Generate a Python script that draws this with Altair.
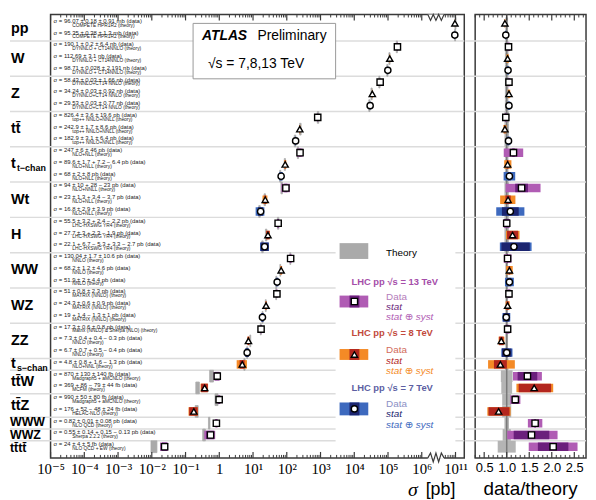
import altair as alt
import numpy as np
import pandas as pd

# ------------------------------------------------------------------ data
group_names = ["pp", "W", "Z", "tt\u0304", "t", "Wt", "H", "WW", "WZ", "ZZ", "t",
               "tt\u0304W", "tt\u0304Z", "WWW", "WWZ", "tt\u0304tt\u0304"]
group_subs = ["", "", "", "", "t\u2212chan", "", "", "", "", "", "s\u2212chan", "", "", "", "", ""]
group_sizes = [2, 3, 3, 3, 3, 3, 3, 3, 3, 3, 1, 2, 2, 1, 1, 1]

energies = [8, 7,
            13, 8, 7,
            13, 8, 7,
            13, 8, 7,
            13, 8, 7,
            13, 8, 7,
            13, 8, 7,
            13, 8, 7,
            13, 8, 7,
            13, 8, 7,
            8,
            13, 8,
            13, 8,
            13, 13, 13]
sigma = [96.07, 95.35,
         190.1, 112.69, 98.71,
         58.43, 34.24, 29.53,
         826.4, 242.9, 182.9,
         247, 89.6, 68,
         94, 23, 16.8,
         55.5, 27.7, 22.1,
         130.04, 68.2, 51.9,
         51, 24.3, 19,
         17.3, 7.3, 6.7,
         4.8,
         870, 369,
         990, 176,
         0.82, 0.55, 24]
units = ["mb"] * 2 + ["nb"] * 6 + ["pb"] * 22 + ["fb"] * 4 + ["pb", "pb", "fb"]
stat_up = [0.18, 0.38, 0.2, 0.0, 0.028, 0.03, 0.03, 0.03, 3.6, 1.7, 3.1, 6, 1.7, 2, 10, 1.3, 2.9,
           3.2, 3, 6.7, 1.7, 1.2, 2, 0.8, 0.6, 1.4, 0.6, 0.4, 0.7, 0.8, 130, 86, 50, 52, 0.01, 0.14, 4]
stat_dn = [0.18, 0.38, 0.2, 0.0, 0.028, 0.03, 0.03, 0.03, 3.6, 1.7, 3.1, 6, 1.7, 2, 10, 1.3, 2.9,
           3.2, 3, 5.3, 1.7, 1.2, 2, 0.8, 0.6, 1.3, 0.6, 0.4, 0.7, 0.8, 130, 79, 50, 48, 0.01, 0.14, 4]
syst_up = [0.91, 1.3, 6.4, 3.1, 2.191, 1.66, 0.92, 0.77, 19.6, 8.6, 6.4, 46, 7.2, 8, 28, 3.4, 3.9,
           2.4, 2.3, 3.3, 10.6, 4.6, 4.4, 2.3, 0.9, 1, 0.8, 0.4, 0.5, 1.6, 140, 44, 80, 24, 0.08, 0.15, 5]
syst_dn = [0.91, 1.3, 6.4, 3.1, 2.191, 1.66, 0.92, 0.77, 19.6, 8.6, 6.4, 46, 6.4, 8, 23, 3.7, 3.9,
           2.2, 1.9, 2.7, 10.6, 4.6, 4.4, 2.3, 0.9, 1, 0.8, 0.3, 0.4, 1.3, 140, 44, 80, 24, 0.08, 0.13, 5]
ratio = [0.96, 0.98,
         1.04, 1.02, 1.03,
         1.05, 1.05, 1.05,
         0.98, 0.96, 1.04,
         1.15, 1.02, 1.06,
         1.33, 1.03, 1.08,
         1.00, 1.13, 1.16,
         1.02, 1.06, 1.06,
         1.05, 1.02, 0.99,
         1.02, 0.88, 1.00,
         0.86,
         1.46, 1.61,
         1.19, 0.82,
         1.63, 1.55, 2.03]
theory_unc = [0.03, 0.03,
              0.04, 0.04, 0.04,
              0.04, 0.04, 0.04,
              0.05, 0.05, 0.05,
              0.04, 0.04, 0.04,
              0.05, 0.05, 0.05,
              0.05, 0.05, 0.05,
              0.03, 0.03, 0.03,
              0.03, 0.03, 0.03,
              0.03, 0.03, 0.03,
              0.04,
              0.13, 0.12,
              0.10, 0.10,
              0.05, 0.09, 0.20]
data_text = [
    "σ = 96.07 ± 0.18 ± 0.91 mb (data)",
    "σ = 95.35 ± 0.38 ± 1.3 mb (data)",
    "σ = 190.1 ± 0.2 ± 6.4 nb (data)",
    "σ = 112.69 ± 3.1 nb (data)",
    "σ = 98.71 ± 0.028 ± 2.191 nb (data)",
    "σ = 58.43 ± 0.03 ± 1.66 nb (data)",
    "σ = 34.24 ± 0.03 ± 0.92 nb (data)",
    "σ = 29.53 ± 0.03 ± 0.77 nb (data)",
    "σ = 826.4 ± 3.6 ± 19.6 pb (data)",
    "σ = 242.9 ± 1.7 ± 8.6 pb (data)",
    "σ = 182.9 ± 3.1 ± 6.4 pb (data)",
    "σ = 247 ± 6 ± 46 pb (data)",
    "σ = 89.6 ± 1.7 + 7.2 − 6.4 pb (data)",
    "σ = 68 ± 2 ± 8 pb (data)",
    "σ = 94 ± 10 + 28 − 23 pb (data)",
    "σ = 23 ± 1.3 + 3.4 − 3.7 pb (data)",
    "σ = 16.8 ± 2.9 ± 3.9 pb (data)",
    "σ = 55.5 ± 3.2 + 2.4 − 2.2 pb (data)",
    "σ = 27.7 ± 3 + 2.3 − 1.9 pb (data)",
    "σ = 22.1 + 6.7 − 5.3 + 3.3 − 2.7 pb (data)",
    "σ = 130.04 ± 1.7 ± 10.6 pb (data)",
    "σ = 68.2 ± 1.2 ± 4.6 pb (data)",
    "σ = 51.9 ± 2 ± 4.4 pb (data)",
    "σ = 51 ± 0.8 ± 2.3 pb (data)",
    "σ = 24.3 ± 0.6 ± 0.9 pb (data)",
    "σ = 19 + 1.4 − 1.3 ± 1 pb (data)",
    "σ = 17.3 ± 0.6 ± 0.8 pb (data)",
    "σ = 7.3 ± 0.4 + 0.4 − 0.3 pb (data)",
    "σ = 6.7 ± 0.7 + 0.5 − 0.4 pb (data)",
    "σ = 4.8 ± 0.8 + 1.6 − 1.3 pb (data)",
    "σ = 870 ± 130 ± 140 fb (data)",
    "σ = 369 + 86 − 79 ± 44 fb (data)",
    "σ = 990 ± 50 ± 80 fb (data)",
    "σ = 176 + 52 − 48 ± 24 fb (data)",
    "σ = 0.82 ± 0.01 ± 0.08 pb (data)",
    "σ = 0.55 ± 0.14 + 0.15 − 0.13 pb (data)",
    "σ = 24 ± 4 ± 5 fb (data)",
]
theory_text = (["COMPETE HPR1R2 (theory)"] * 2 + ["DYNNLO + CT14NNLO (theory)"] * 3
               + ["DYNNLO+CT14 NNLO (theory)"] * 3 + ["top++ NNLO+NNLL (theory)"] * 3
               + ["NLO+NLL (theory)"] * 3 + ["NLO+NNLL (theory)", "NLO+NLL (theory)", "NLO+NLL (theory)"]
               + ["LHC-HXSWG YR4 (theory)"] * 3 + ["NNLO (theory)"] * 3 + ["MATRIX (NNLO) (theory)"] * 3
               + ["Matrix (NNLO) & Sherpa (NLO) (theory)", "NNLO (theory)", "NNLO (theory)"]
               + ["NLO+NNL (theory)"] + ["Madgraph5 + aMCNLO (theory)", "MCFM (theory)"]
               + ["Madgraph5 + aMCNLO (theory)", "HELAC-NLO (theory)"]
               + ["NLO QCD (theory)", "Sherpa 2.2.2 (theory)", "NLO QCD + EW (theory)"])
tick_labels_L = ["10⁻⁵", "10⁻⁴", "10⁻³", "10⁻²", "10⁻¹", "1", "10¹", "10²", "10³",
                 "10⁴", "10⁵", "10⁶", "10¹¹"]
tick_labels_R = [0.5, 1.0, 1.5, 2.0, 2.5]

# ------------------------------------------------------------------ styling / layout
W1, W2, H = 418, 112, 448
SANS = "Liberation Sans, DejaVu Sans, sans-serif"
SERIF = "Liberation Serif, DejaVu Serif, serif"
FRAME = "#3a3a3a"
GRAY = "#aaaaaa"
SEP = "#dcdcdc"
pal_out = {13: "#b05cb4", 8: "#f48a26", 7: "#3d69be"}
pal_in = {13: "#6b1f7c", 8: "#b3261e", 7: "#1c2570"}
# small vertical nudges (in rows) for the three crowded single-row labels at the bottom
label_nudge = {"WWW": -0.13, "WWZ": 0.0, "tt\u0304tt\u0304": 0.13}

# ------------------------------------------------------------------ derived table
unit_pb = {"mb": 1e9, "nb": 1e3, "pb": 1.0, "fb": 1e-3}
fac = np.array([unit_pb[u] for u in units])
val = np.array(sigma) * fac
su = np.array(stat_up) * fac
sd = np.array(stat_dn) * fac
tot_u = np.hypot(su, np.array(syst_up) * fac)
tot_d = np.hypot(sd, np.array(syst_dn) * fac)
rat = np.array(ratio)
thu = np.array(theory_unc)
theo = val / rat
brk = np.where(val > 1e8, 4.0, 0.0)  # broken axis: 10^11 is drawn right after 10^6
rows = np.arange(len(sigma))

df = pd.DataFrame({
    "row": rows,
    "energy": [str(e) for e in energies],
    "c_out": [pal_out[e] for e in energies],
    "c_in": [pal_in[e] for e in energies],
    "x": np.log10(val) - brk,
    "xs_lo": np.log10(val - sd) - brk, "xs_hi": np.log10(val + su) - brk,
    "xt_lo": np.log10(val - tot_d) - brk, "xt_hi": np.log10(val + tot_u) - brk,
    "xth_lo": np.log10(theo * (1 - thu)) - brk, "xth_hi": np.log10(theo * (1 + thu)) - brk,
    "r": rat,
    "rs_lo": rat * (1 - sd / val), "rs_hi": rat * (1 + su / val),
    "rt_lo": rat * (1 - tot_d / val), "rt_hi": rat * (1 + tot_u / val),
    "rth_lo": 1 - thu, "rth_hi": 1 + thu,
    "y_lo": rows - 0.5, "y_hi": rows + 0.5,
    "b_lo": rows - 0.36, "b_hi": rows + 0.36,
    "dtext": data_text, "ttext": theory_text,
})

gstart = np.cumsum([0] + group_sizes[:-1])
gdf = pd.DataFrame({"name": group_names, "sub": group_subs,
                    "center": gstart + (np.array(group_sizes) - 1) / 2.0})
gdf["ly"] = gdf["center"] + gdf["name"].map(label_nudge).fillna(0.0)
gdf_big = gdf.iloc[:13]
gdf_small = gdf.iloc[13:]
sdf = gdf[gdf["sub"] != ""]
sep_df = pd.DataFrame({"sep": gstart[1:] - 0.5})

xL = alt.Scale(domain=[-5, 7.26], nice=False, zero=False)
xR = alt.Scale(domain=[0.3, 2.76], nice=False, zero=False)
yS = alt.Scale(domain=[-0.75, 36.95], nice=False, zero=False, reverse=True)

lab_expr = "[" + ",".join("'" + s + "'" for s in tick_labels_L) + "][datum.value + 5]"
axL = alt.Axis(values=list(range(-5, 8)), labelExpr=lab_expr, title=None, ticks=False,
               domain=False, grid=False, labelFont=SERIF, labelFontSize=15, labelColor="black",
               labelPadding=4, labelFlush=False, labelOverlap=False)
axR = alt.Axis(values=tick_labels_R, format=".1f", title=None, ticks=False, domain=False,
               grid=False, labelFont=SANS, labelFontSize=13, labelColor="black",
               labelPadding=4, labelFlush=False, labelOverlap=False)

shape_enc = alt.Shape("energy:N", legend=None,
                      scale=alt.Scale(domain=["13", "8", "7"],
                                      range=["square", "triangle-up", "circle"]))


def XL(f):
    return alt.X(f"{f}:Q", scale=xL, axis=axL)


def XR(f):
    return alt.X(f"{f}:Q", scale=xR, axis=axR)


def YY(f):
    return alt.Y(f"{f}:Q", scale=yS, axis=None)


one = pd.DataFrame({"k": [0]})


def txt(x, y, s, size=10, color="black", weight="normal", style="normal",
        align="left", font=SANS):
    return alt.Chart(one).mark_text(text=s, align=align, baseline="middle", fontSize=size,
                                    color=color, fontWeight=weight, fontStyle=style,
                                    font=font).encode(x=alt.value(x), y=alt.value(y))


def box(x1, x2, y1, y2, fill, stroke=None, sw=1):
    kw = dict(fill=fill, opacity=1)
    if stroke:
        kw.update(stroke=stroke, strokeWidth=sw)
    return alt.Chart(one).mark_rect(**kw).encode(
        x=alt.value(x1), x2=alt.value(x2), y=alt.value(y1), y2=alt.value(y2))


def sym(x, y, shape):
    return alt.Chart(one).mark_point(shape=shape, filled=True, fill="white", stroke="black",
                                     strokeWidth=1.4, size=40, opacity=1).encode(
        x=alt.value(x), y=alt.value(y))


def tick_layers(vals, X, length, width):
    d = pd.DataFrame({"v": vals})
    top = alt.Chart(d).mark_rule(color=FRAME, strokeWidth=width).encode(
        x=X("v"), y=alt.value(0), y2=alt.value(length))
    bot = alt.Chart(d).mark_rule(color=FRAME, strokeWidth=width).encode(
        x=X("v"), y=alt.value(H), y2=alt.value(H - length))
    return [top, bot]


# ------------------------------------------------------------------ left panel
major_L = list(range(-5, 8))
minor_L = [d + np.log10(k) for d in range(-5, 6) for k in range(2, 10)] + \
          [6 + np.log10(k) for k in range(5, 10)]

zz_x = np.linspace(6.18, 6.66, 7)
zig = pd.DataFrame({
    "zx": np.concatenate([zz_x, zz_x]),
    "zy": [0, 6, 0, 6, 0, 6, 0] + [H + o for o in [0, -5, 4, -5, 4, -5, 0]],
    "part": ["top"] * 7 + ["bot"] * 7,
})
cover = pd.DataFrame({"a": [6.18], "b": [6.66]})

left_layers = [
    alt.Chart(sep_df).mark_rule(color=SEP, strokeWidth=1.5).encode(
        y=YY("sep"), x=alt.value(-41), x2=alt.value(W1)),
    # ATLAS box and legend background
    box(144, 288, 9, 65, "white", "#999999", 1),
    box(288, 409, 224, 439, "white"),
    alt.Chart(df).mark_rect(color=GRAY, stroke=GRAY, strokeWidth=0.8).encode(
        x=XL("xth_lo"), x2="xth_hi", y=YY("y_lo"), y2="y_hi"),
    alt.Chart(df).mark_rect().encode(
        x=XL("xt_lo"), x2="xt_hi", y=YY("b_lo"), y2="b_hi",
        color=alt.Color("c_out:N", scale=None)),
    alt.Chart(df).mark_rect().encode(
        x=XL("xs_lo"), x2="xs_hi", y=YY("b_lo"), y2="b_hi",
        color=alt.Color("c_in:N", scale=None)),
    alt.Chart(df).mark_point(filled=True, fill="white", stroke="black", strokeWidth=1.4,
                             size=40, opacity=1).encode(x=XL("x"), y=YY("row"), shape=shape_enc),
    alt.Chart(df).mark_text(align="left", baseline="middle", fontSize=6, font=SANS,
                            dy=-2.5, color="#222").encode(
        x=alt.value(3), y=YY("row"), text="dtext:N"),
    alt.Chart(df).mark_text(align="left", baseline="middle", fontSize=4.9, font=SANS,
                            dy=2.4, color="#222").encode(
        x=alt.value(22), y=YY("row"), text="ttext:N"),
    alt.Chart(gdf_big).mark_text(align="left", baseline="middle", fontSize=14.5,
                                 fontWeight="bold", font=SANS, color="black").encode(
        x=alt.value(-40), y=YY("ly"), text="name:N"),
    alt.Chart(gdf_small).mark_text(align="left", baseline="middle", fontSize=12.5,
                                   fontWeight="bold", font=SANS, color="black").encode(
        x=alt.value(-41), y=YY("ly"), text="name:N"),
    alt.Chart(sdf).mark_text(align="left", baseline="middle", fontSize=9, fontWeight="bold",
                             font=SANS, color="black", dy=3.5).encode(
        x=alt.value(-34), y=YY("center"), text="sub:N"),
    # ATLAS label
    txt(153, 22, "ATLAS", 14, weight="bold", style="italic"),
    txt(209, 22, "Preliminary", 14),
    txt(159, 50, "√s = 7,8,13 TeV", 14),
    # legend
    box(292, 321, 231, 247, GRAY),
    txt(339, 241, "Theory", 10),
    txt(304, 270, "LHC pp  √s = 13 TeV", 9.5, color="#a54ea9", weight="bold"),
    box(292, 321, 284, 296, pal_out[13]), box(302, 312, 284, 296, pal_in[13]),
    sym(307, 290, "square"),
    txt(339, 285, "Data", 10, color="#b47cbb"),
    txt(339, 296, "stat", 10, color=pal_in[13], style="italic"),
    txt(339, 306, "stat ⊕ syst", 10, color=pal_out[13], style="italic"),
    txt(304, 322, "LHC pp  √s = 8 TeV", 9.5, color="#c24a3c", weight="bold"),
    box(292, 321, 338, 349, pal_out[8]), box(302, 312, 338, 349, pal_in[8]),
    sym(307, 343.5, "triangle-up"),
    txt(339, 339, "Data", 10, color="#d26b5b"),
    txt(339, 350, "stat", 10, color=pal_in[8], style="italic"),
    txt(339, 360, "stat ⊕ syst", 10, color=pal_out[8], style="italic"),
    txt(304, 377, "LHC pp  √s = 7 TeV", 9.5, color="#5d5fa3", weight="bold"),
    box(292, 321, 392, 405, pal_out[7]), box(302, 312, 392, 405, pal_in[7]),
    sym(307, 398.5, "circle"),
    txt(339, 394, "Data", 10, color="#8c8fc4"),
    txt(339, 404, "stat", 10, color=pal_in[7], style="italic"),
    txt(339, 415, "stat ⊕ syst", 10, color=pal_out[7], style="italic"),
    # axis title
    txt(366, 480, "σ", 20, style="italic", align="center", font=SERIF),
    txt(379, 480, "[pb]", 18),
]
left_layers += tick_layers(major_L, XL, 6, 1.2) + tick_layers(minor_L, XL, 3, 1)
left_layers += [
    alt.Chart(cover).mark_rect(color="white", opacity=1).encode(
        x=XL("a"), x2="b", y=alt.value(0), y2=alt.value(1.6)),
    alt.Chart(cover).mark_rect(color="white", opacity=1).encode(
        x=XL("a"), x2="b", y=alt.value(H - 1.6), y2=alt.value(H + 1)),
    alt.Chart(zig).mark_line(color=FRAME, strokeWidth=1.2).encode(
        x=XL("zx"), y=alt.Y("zy:Q", scale=None, axis=None), detail="part:N"),
]
left = alt.layer(*left_layers).properties(width=W1, height=H)

# ------------------------------------------------------------------ right panel
major_R = tick_labels_R
minor_R = [round(0.3 + 0.1 * i, 1) for i in range(25)]
minor_R = [v for v in minor_R if round(v * 2, 6) != round(round(v * 2), 6)]

right_layers = [
    alt.Chart(sep_df).mark_rule(color=SEP, strokeWidth=1.5).encode(
        y=YY("sep"), x=alt.value(-10), x2=alt.value(W2)),
    alt.Chart(df).mark_rect(color="#b4b4b4").encode(
        x=XR("rth_lo"), x2="rth_hi", y=YY("y_lo"), y2="y_hi"),
    alt.Chart(pd.DataFrame({"one": [1.0]})).mark_rule(color="#7a7a7a", strokeWidth=1.5).encode(
        x=XR("one")),
    alt.Chart(df).mark_rect().encode(
        x=XR("rt_lo"), x2="rt_hi", y=YY("b_lo"), y2="b_hi",
        color=alt.Color("c_out:N", scale=None)),
    alt.Chart(df).mark_rect().encode(
        x=XR("rs_lo"), x2="rs_hi", y=YY("b_lo"), y2="b_hi",
        color=alt.Color("c_in:N", scale=None)),
    alt.Chart(df).mark_point(filled=True, fill="white", stroke="black", strokeWidth=1.4,
                             size=40, opacity=1).encode(x=XR("r"), y=YY("row"), shape=shape_enc),
    txt(W2 / 2, 479, "data/theory", 19, align="center"),
]
right_layers += tick_layers(major_R, XR, 6, 1.2) + tick_layers(minor_R, XR, 3, 1)
right = alt.layer(*right_layers).properties(width=W2, height=H)

chart = (alt.hconcat(left, right, spacing=11, bounds="flush")
         .properties(padding=0)
         .configure_view(stroke=FRAME, strokeWidth=1.5))

chart.save("out.html", embed_options={"renderer": "svg", "actions": False})
